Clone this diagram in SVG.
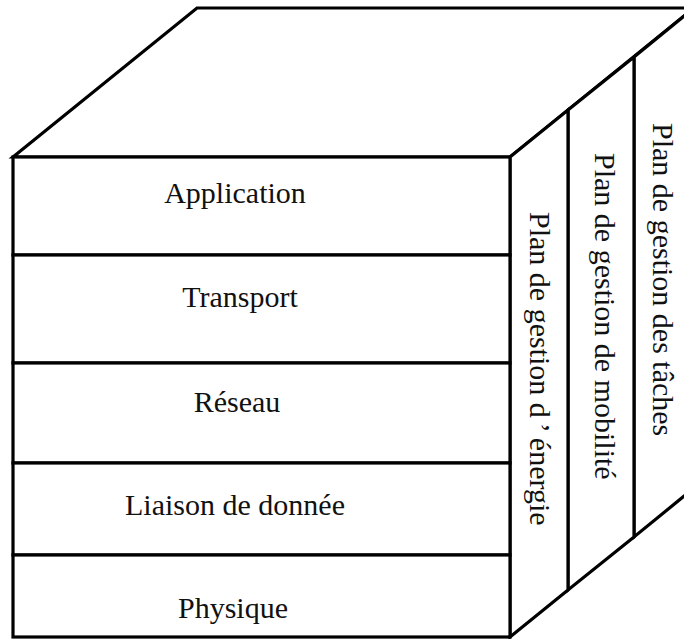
<svg xmlns="http://www.w3.org/2000/svg" width="684" height="639" viewBox="0 0 684 639">
<style>
.s{fill:#fff;stroke:#000;stroke-width:3.2;stroke-linejoin:miter}
.t{font-family:"Liberation Serif","Times New Roman",serif;font-size:30px;fill:#111}
.c{text-anchor:middle}
</style>
<rect width="684" height="639" fill="#fff"/>
<g id="top-face"><polygon class="s" points="13,157 197,8 694,8 510,157"/></g>
<g id="plan-taches">
<polygon class="s" points="634,57 694,8 694,488 634,537"/>
<text class="t" transform="translate(653,123) rotate(90)">Plan de gestion des tâches</text>
</g>
<g id="plan-mobilite">
<polygon class="s" points="568,110 634,57 634,537 568,590"/>
<text class="t" transform="translate(595,153) rotate(90)">Plan de gestion de mobilité</text>
</g>
<g id="plan-energie">
<polygon class="s" points="510,157 568,110 568,590 510,637"/>
<text class="t" transform="translate(530,212) rotate(90)">Plan de gestion d<tspan dx="5">’</tspan><tspan dx="5">énergie</tspan></text>
</g>
<g id="application">
<rect class="s" x="13" y="157" width="497" height="98"/>
<text class="t c" x="235" y="203">Application</text>
</g>
<g id="transport">
<rect class="s" x="13" y="255" width="497" height="108"/>
<text class="t c" x="240" y="307">Transport</text>
</g>
<g id="reseau">
<rect class="s" x="13" y="363" width="497" height="100"/>
<text class="t c" x="237" y="412">Réseau</text>
</g>
<g id="liaison">
<rect class="s" x="13" y="463" width="497" height="92"/>
<text class="t c" x="235" y="515">Liaison de donnée</text>
</g>
<g id="physique">
<rect class="s" x="13" y="555" width="497" height="82"/>
<text class="t c" x="233" y="618">Physique</text>
</g>
<g id="connectors"></g>
</svg>
